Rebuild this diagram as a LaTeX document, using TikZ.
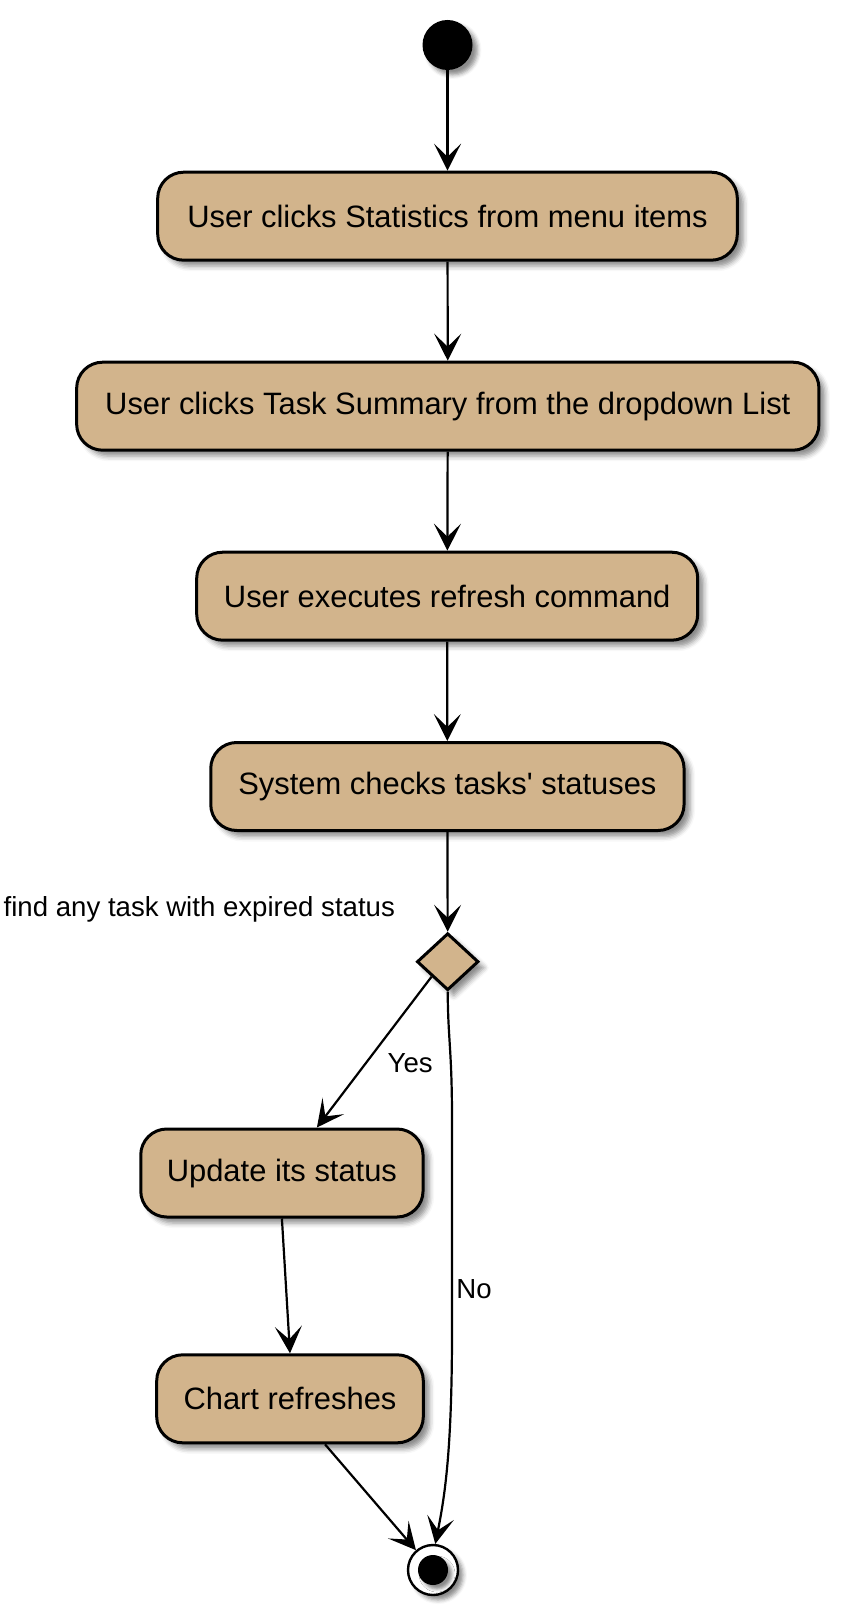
\documentclass[tikz,border=0pt]{standalone}
\usepackage{fontspec}
\setmainfont{Liberation Sans}
\usetikzlibrary{arrows.meta,shapes.geometric,shadows.blur,calc}
\definecolor{tanc}{HTML}{D2B48C}
\tikzset{
  actbox/.style={draw, line width=1.5pt, fill=tanc, rounded corners=13pt,
    minimum height=44pt, inner sep=0pt,
    font=\fontsize{15.45pt}{18pt}\selectfont,
    blur shadow={shadow xshift=3pt, shadow yshift=-3pt, shadow blur radius=2.5pt, shadow opacity=45}},
  decbox/.style={draw, line width=1.5pt, fill=tanc, diamond, inner sep=0pt,
    minimum width=30.8pt, minimum height=28.5pt,
    blur shadow={shadow xshift=3pt, shadow yshift=-3pt, shadow blur radius=2.5pt, shadow opacity=45}},
  startdot/.style={circle, fill=black, inner sep=0pt, minimum size=25pt,
    blur shadow={shadow xshift=2.5pt, shadow yshift=-2.5pt, shadow blur radius=2pt, shadow opacity=45}},
  endring/.style={circle, draw, line width=1.2pt, fill=white, inner sep=0pt, minimum size=25pt,
    blur shadow={shadow xshift=2.5pt, shadow yshift=-2.5pt, shadow blur radius=2pt, shadow opacity=45}},
  enddot/.style={circle, fill=black, inner sep=0pt, minimum size=15pt,
    blur shadow={shadow xshift=2pt, shadow yshift=-2pt, shadow blur radius=1.5pt, shadow opacity=45}},
  flow/.style={line width=1.1pt, -{Stealth[length=13.5pt, width=13.5pt, inset=6.5pt]}},
  lbl/.style={font=\fontsize{13.8pt}{16pt}\selectfont, inner sep=0pt}
}
\begin{document}
\begin{tikzpicture}[x=0.5pt, y=-0.5pt]
\useasboundingbox (0,0) rectangle (842,1620);

\node[startdot] (start) at (447.5,45) {};
\node[actbox, minimum width=289.8pt] (b1) at (447.5,216.2) {User clicks Statistics from menu items};
\node[actbox, minimum width=371.15pt] (b2) at (447.8,406.2) {User clicks Task Summary from the dropdown List};
\node[actbox, minimum width=250.5pt] (b3) at (447.2,596.2) {User executes refresh command};
\node[actbox, minimum width=236.65pt] (b4) at (447.4,786.5) {System checks tasks\textquotesingle{} statuses};
\node[decbox] (dec) at (447.7,961.7) {};
\node[lbl, anchor=base west] (declbl) at (3.3,916.7) {find any task with expired status};
\node[actbox, minimum width=141.15pt] (upd) at (281.9,1173) {Update its status};
\node[actbox, minimum width=133.3pt] (chart) at (290,1398.8) {Chart refreshes};
\node[endring] (end) at (433,1570) {};
\node[enddot] (enddot) at (433,1570) {};
\node[lbl, anchor=base west] (yeslbl) at (387.3,1072.7) {Yes};
\node[lbl, anchor=base west] (nolbl) at (456,1298.3) {No};

\coordinate (noa) at (452,1120);
\coordinate (nob) at (452,1330);

\draw[flow] (start) -- (b1);
\draw[flow] (b1) -- (b2);
\draw[flow] (b2) -- (b3);
\draw[flow] (b3) -- (b4);
\draw[flow] (b4) -- (dec);
\draw[flow] (dec.south west) -- ([xshift=17.5pt]upd.north);
\draw[flow] (upd.south) -- (chart.north);
\draw[flow] ([xshift=17.5pt]chart.south) -- (end);
\draw[flow] (dec.south) .. controls (448,1040) and (452,1050) .. (noa) -- (nob)
  .. controls (452,1450) and (445,1495) .. (end.85);
\end{tikzpicture}
\end{document}
